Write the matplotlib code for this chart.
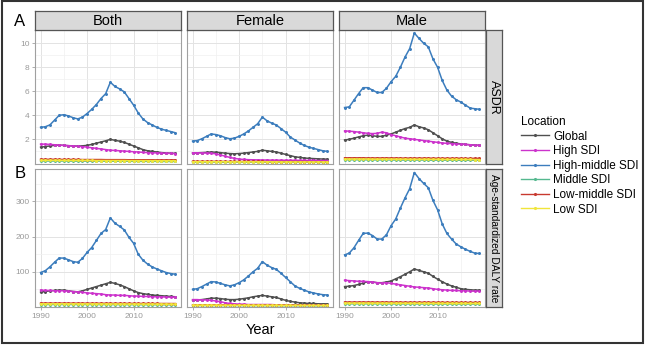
import numpy as np
import matplotlib

matplotlib.use("Agg")
import matplotlib.pyplot as plt
from matplotlib.lines import Line2D
from matplotlib.patches import Rectangle

plt.rcParams["font.family"] = ["Liberation Sans", "DejaVu Sans"]

years = list(range(1990, 2020))
locations = ["Global", "High SDI", "High-middle SDI", "Middle SDI", "Low-middle SDI", "Low SDI"]
sexes = ["Both", "Female", "Male"]
measures = ["ASDR", "Age-standardized DALY rate"]

asdr_both = {
    "Global": [1.35, 1.4, 1.45, 1.5, 1.52, 1.5, 1.47, 1.45, 1.44, 1.46, 1.5, 1.58, 1.68, 1.78, 1.88, 2.0, 1.92, 1.85, 1.75, 1.6, 1.45, 1.3, 1.15, 1.05, 1.0, 0.95, 0.9, 0.87, 0.85, 0.83],
    "High SDI": [1.6, 1.6, 1.58, 1.55, 1.52, 1.5, 1.48, 1.45, 1.42, 1.4, 1.35, 1.3, 1.25, 1.2, 1.15, 1.1, 1.08, 1.05, 1.02, 1.0, 0.97, 0.95, 0.92, 0.9, 0.88, 0.87, 0.85, 0.84, 0.83, 0.82],
    "High-middle SDI": [3.0, 3.05, 3.2, 3.6, 4.0, 4.05, 3.95, 3.8, 3.7, 3.85, 4.15, 4.5, 4.9, 5.4, 5.8, 6.75, 6.4, 6.2, 5.95, 5.4, 4.85, 4.2, 3.7, 3.4, 3.2, 3.0, 2.85, 2.75, 2.65, 2.55],
    "Middle SDI": [0.2, 0.2, 0.2, 0.2, 0.2, 0.2, 0.2, 0.19, 0.19, 0.19, 0.19, 0.19, 0.19, 0.19, 0.18, 0.18, 0.18, 0.18, 0.18, 0.18, 0.17, 0.17, 0.17, 0.17, 0.17, 0.17, 0.16, 0.16, 0.16, 0.16],
    "Low-middle SDI": [0.34, 0.34, 0.34, 0.34, 0.33, 0.33, 0.33, 0.33, 0.33, 0.32, 0.32, 0.32, 0.32, 0.32, 0.31, 0.31, 0.31, 0.31, 0.31, 0.3, 0.3, 0.3, 0.3, 0.3, 0.3, 0.29, 0.29, 0.29, 0.29, 0.29],
    "Low SDI": [0.26, 0.26, 0.26, 0.26, 0.26, 0.25, 0.25, 0.25, 0.25, 0.25, 0.25, 0.25, 0.24, 0.24, 0.24, 0.24, 0.24, 0.24, 0.24, 0.23, 0.23, 0.23, 0.23, 0.23, 0.23, 0.23, 0.22, 0.22, 0.22, 0.22],
}

asdr_female = {
    "Global": [0.85, 0.88, 0.9, 0.92, 0.95, 0.93, 0.9, 0.85, 0.82, 0.8, 0.82, 0.85, 0.9, 0.95, 1.0, 1.1, 1.05, 1.0, 0.95, 0.85, 0.75, 0.65, 0.55, 0.5, 0.45, 0.42, 0.4, 0.38, 0.36, 0.35],
    "High SDI": [0.88, 0.88, 0.87, 0.86, 0.84, 0.8, 0.7, 0.6, 0.5, 0.42, 0.36, 0.33, 0.31, 0.3, 0.29, 0.28, 0.28, 0.27, 0.27, 0.27, 0.26, 0.26, 0.26, 0.25, 0.25, 0.25, 0.25, 0.24, 0.24, 0.24],
    "High-middle SDI": [1.85, 1.9, 2.05, 2.25, 2.45, 2.4, 2.3, 2.15, 2.05, 2.1, 2.25, 2.45, 2.7, 3.0, 3.3, 3.85, 3.55, 3.35, 3.2, 2.9, 2.6, 2.2, 1.95, 1.7, 1.5, 1.35, 1.25, 1.15, 1.05, 1.0],
    "Middle SDI": [0.11, 0.11, 0.11, 0.11, 0.11, 0.11, 0.1, 0.1, 0.1, 0.1, 0.1, 0.1, 0.1, 0.1, 0.1, 0.1, 0.1, 0.09, 0.09, 0.09, 0.09, 0.09, 0.09, 0.09, 0.09, 0.09, 0.09, 0.09, 0.08, 0.08],
    "Low-middle SDI": [0.17, 0.17, 0.17, 0.17, 0.17, 0.17, 0.17, 0.16, 0.16, 0.16, 0.16, 0.16, 0.16, 0.16, 0.16, 0.16, 0.15, 0.15, 0.15, 0.15, 0.15, 0.15, 0.15, 0.15, 0.15, 0.14, 0.14, 0.14, 0.14, 0.14],
    "Low SDI": [0.14, 0.14, 0.14, 0.14, 0.14, 0.14, 0.14, 0.14, 0.13, 0.13, 0.13, 0.13, 0.13, 0.13, 0.13, 0.13, 0.13, 0.13, 0.13, 0.12, 0.12, 0.12, 0.12, 0.12, 0.12, 0.12, 0.12, 0.12, 0.12, 0.12],
}

asdr_male = {
    "Global": [1.95, 2.0, 2.1, 2.2, 2.3, 2.35, 2.3, 2.25, 2.25, 2.35, 2.45, 2.6, 2.75, 2.9, 3.0, 3.2, 3.05, 2.95, 2.8, 2.55, 2.3, 2.05, 1.85, 1.75, 1.68, 1.62, 1.58, 1.55, 1.52, 1.5],
    "High SDI": [2.7, 2.68, 2.65, 2.6, 2.55, 2.5, 2.48, 2.5, 2.6, 2.55, 2.4, 2.3, 2.2, 2.1, 2.05, 2.0, 1.95, 1.9, 1.85, 1.8, 1.75, 1.7, 1.67, 1.65, 1.62, 1.6, 1.58, 1.55, 1.52, 1.5],
    "High-middle SDI": [4.65, 4.7, 5.25, 5.8, 6.3, 6.3, 6.1, 5.9, 5.9, 6.25, 6.8, 7.25, 8.0, 8.85, 9.55, 10.85, 10.4, 10.0, 9.7, 8.7, 8.0, 6.9, 6.1, 5.6, 5.3, 5.1, 4.85, 4.6, 4.55, 4.5],
    "Middle SDI": [0.3, 0.3, 0.3, 0.3, 0.3, 0.29, 0.29, 0.29, 0.29, 0.29, 0.29, 0.28, 0.28, 0.28, 0.28, 0.28, 0.28, 0.28, 0.27, 0.27, 0.27, 0.27, 0.27, 0.27, 0.27, 0.26, 0.26, 0.26, 0.26, 0.26],
    "Low-middle SDI": [0.46, 0.46, 0.46, 0.46, 0.46, 0.45, 0.45, 0.45, 0.45, 0.45, 0.45, 0.45, 0.44, 0.44, 0.44, 0.44, 0.44, 0.44, 0.44, 0.43, 0.43, 0.43, 0.43, 0.43, 0.43, 0.43, 0.42, 0.42, 0.42, 0.42],
    "Low SDI": [0.36, 0.36, 0.36, 0.36, 0.36, 0.36, 0.35, 0.35, 0.35, 0.35, 0.35, 0.35, 0.35, 0.35, 0.34, 0.34, 0.34, 0.34, 0.34, 0.34, 0.34, 0.33, 0.33, 0.33, 0.33, 0.33, 0.33, 0.33, 0.32, 0.32],
}

daly_both = {
    "Global": [42, 44, 46, 47, 48, 48, 46, 44, 43, 46, 50, 54, 58, 62, 66, 70, 67, 63, 58, 52, 46, 41, 38, 36, 34, 33, 32, 31, 30, 29],
    "High SDI": [48, 47, 47, 46, 46, 46, 45, 44, 43, 42, 40, 39, 38, 37, 35, 34, 34, 33, 33, 32, 31, 31, 30, 30, 29, 29, 29, 28, 28, 28],
    "High-middle SDI": [98, 103, 114, 127, 139, 139, 134, 129, 127, 138, 155, 169, 189, 209, 220, 253, 238, 229, 219, 198, 181, 150, 133, 122, 114, 108, 103, 98, 95, 93],
    "Middle SDI": [7, 7, 7, 7, 7, 7, 7, 7, 7, 7, 7, 7, 6.8, 6.8, 6.8, 6.8, 6.7, 6.7, 6.6, 6.6, 6.5, 6.5, 6.4, 6.4, 6.3, 6.3, 6.2, 6.2, 6.1, 6.1],
    "Low-middle SDI": [11, 11, 11, 11, 11, 11, 10.9, 10.9, 10.8, 10.8, 10.7, 10.7, 10.6, 10.6, 10.5, 10.5, 10.4, 10.4, 10.3, 10.3, 10.2, 10.2, 10.1, 10.1, 10, 10, 9.9, 9.9, 9.8, 9.8],
    "Low SDI": [9, 9, 9, 9, 9, 9, 8.9, 8.9, 8.8, 8.8, 8.8, 8.7, 8.7, 8.6, 8.6, 8.6, 8.5, 8.5, 8.4, 8.4, 8.4, 8.3, 8.3, 8.2, 8.2, 8.2, 8.1, 8.1, 8, 8],
}

daly_female = {
    "Global": [19, 20, 21, 23, 25, 25, 24, 22, 21, 21, 22, 24, 26, 29, 31, 33, 31, 29, 27, 23, 19, 16, 14, 12, 11, 10, 10, 9, 9, 9],
    "High SDI": [21, 21, 20, 20, 19, 17, 15, 12, 10, 9, 8, 8, 7, 7, 7, 7, 7, 7, 6, 6, 6, 6, 6, 6, 6, 6, 5, 5, 5, 5],
    "High-middle SDI": [50, 52, 58, 65, 72, 71, 67, 63, 60, 63, 69, 77, 88, 100, 110, 129, 119, 112, 107, 96, 84, 72, 60, 53, 48, 43, 40, 37, 35, 34],
    "Middle SDI": [4, 4, 4, 4, 4, 4, 4, 3.9, 3.9, 3.9, 3.9, 3.8, 3.8, 3.8, 3.8, 3.7, 3.7, 3.7, 3.7, 3.6, 3.6, 3.6, 3.6, 3.5, 3.5, 3.5, 3.5, 3.4, 3.4, 3.4],
    "Low-middle SDI": [6, 6, 6, 6, 6, 6, 6, 5.9, 5.9, 5.9, 5.9, 5.8, 5.8, 5.8, 5.8, 5.7, 5.7, 5.7, 5.7, 5.6, 5.6, 5.6, 5.6, 5.5, 5.5, 5.5, 5.5, 5.4, 5.4, 5.4],
    "Low SDI": [5, 5, 5, 5, 5, 5, 5, 4.9, 4.9, 4.9, 4.9, 4.8, 4.8, 4.8, 4.8, 4.7, 4.7, 4.7, 4.7, 4.6, 4.6, 4.6, 4.6, 4.5, 4.5, 4.5, 4.5, 4.4, 4.4, 4.4],
}

daly_male = {
    "Global": [58, 59, 61, 64, 68, 72, 71, 69, 69, 71, 74, 80, 86, 93, 100, 108, 104, 100, 96, 87, 79, 72, 65, 60, 56, 52, 50, 49, 48, 48],
    "High SDI": [76, 75, 74, 73, 73, 72, 71, 69, 68, 69, 67, 65, 63, 61, 59, 57, 56, 55, 54, 52, 50, 49, 48, 47, 47, 46, 46, 45, 45, 45],
    "High-middle SDI": [148, 153, 168, 189, 209, 210, 203, 193, 193, 205, 231, 250, 281, 310, 336, 382, 365, 351, 339, 303, 276, 236, 209, 193, 179, 171, 164, 158, 153, 152],
    "Middle SDI": [9, 9, 9, 9, 9, 9, 9, 8.9, 8.9, 8.9, 8.9, 8.8, 8.8, 8.8, 8.8, 8.7, 8.7, 8.7, 8.7, 8.6, 8.6, 8.6, 8.6, 8.5, 8.5, 8.5, 8.5, 8.4, 8.4, 8.4],
    "Low-middle SDI": [14, 14, 14, 14, 14, 14, 13.9, 13.9, 13.8, 13.8, 13.8, 13.7, 13.7, 13.6, 13.6, 13.6, 13.5, 13.5, 13.4, 13.4, 13.4, 13.3, 13.3, 13.2, 13.2, 13.2, 13.1, 13.1, 13, 13],
    "Low SDI": [11, 11, 11, 11, 11, 11, 10.9, 10.9, 10.9, 10.8, 10.8, 10.8, 10.7, 10.7, 10.7, 10.6, 10.6, 10.6, 10.5, 10.5, 10.5, 10.4, 10.4, 10.4, 10.3, 10.3, 10.3, 10.2, 10.2, 10.2],
}

panel_data = [[asdr_both, asdr_female, asdr_male], [daly_both, daly_female, daly_male]]

colors = {
    "Global": "#505050",
    "High SDI": "#cc33cc",
    "High-middle SDI": "#3c7dbd",
    "Middle SDI": "#55b88f",
    "Low-middle SDI": "#c8392f",
    "Low SDI": "#f0e53a",
}

W, H = 647, 346


def rect(left, top, right, bottom):
    return [left / W, 1 - bottom / H, (right - left) / W, (bottom - top) / H]


fig = plt.figure(figsize=(W / 100, H / 100), dpi=100)

col_lefts = [35, 187, 339]
col_width = 146
row_tops = [30, 169]
row_bottoms = [164, 307]
ylims = [(-0.05, 11.1), (0, 392)]
yticks = [[2, 4, 6, 8, 10], [100, 200, 300]]
yminor = [[1, 3, 5, 7, 9], [50, 150, 250, 350]]
strip_fill = "#d9d9d9"
strip_edge = "#555555"
strip_sizes = [9, 7.3]

for r in range(2):
    for c in range(3):
        left = col_lefts[c]
        ax = fig.add_axes(rect(left, row_tops[r], left + col_width, row_bottoms[r]))
        for loc in locations:
            ax.plot(years, panel_data[r][c][loc], color=colors[loc], lw=1.1,
                    marker=".", markersize=2.3, label=loc)
        ax.set_xlim(1988.8, 2020.2)
        ax.set_ylim(*ylims[r])
        ax.set_xticks([1990, 2000, 2010])
        ax.set_xticks([1995, 2005, 2015], minor=True)
        ax.set_yticks(yticks[r])
        ax.set_yticks(yminor[r], minor=True)
        ax.grid(True, which="major", color="#e3e3e3", lw=0.7)
        ax.grid(True, which="minor", color="#f0f0f0", lw=0.5)
        ax.set_axisbelow(True)
        for sp in ax.spines.values():
            sp.set_color("#a0a0a0")
            sp.set_linewidth(0.8)
        ax.tick_params(which="minor", length=0)
        ax.tick_params(which="major", length=2, color="#a0a0a0", width=0.6,
                       labelsize=6, labelcolor="#9a9a9a", pad=2)
        if c != 0:
            ax.tick_params(axis="y", labelleft=False, length=0)
        if r != 1:
            ax.tick_params(axis="x", labelbottom=False, length=0)

        if r == 0:
            sax = fig.add_axes(rect(left, 11, left + col_width, 30))
            sax.set_facecolor(strip_fill)
            sax.set_xticks([])
            sax.set_yticks([])
            for sp in sax.spines.values():
                sp.set_color(strip_edge)
                sp.set_linewidth(0.9)
            sax.text(0.5, 0.45, sexes[c], ha="center", va="center", fontsize=10.5,
                     transform=sax.transAxes)

    rax = fig.add_axes(rect(486, row_tops[r], 502, row_bottoms[r]))
    rax.set_facecolor(strip_fill)
    rax.set_xticks([])
    rax.set_yticks([])
    for sp in rax.spines.values():
        sp.set_color(strip_edge)
        sp.set_linewidth(0.9)
    rax.text(0.5, 0.5, measures[r], ha="center", va="center", rotation=-90,
             fontsize=strip_sizes[r], transform=rax.transAxes)

fig.text(20 / W, 1 - 22 / H, "A", ha="center", va="center", fontsize=12)
fig.text(20 / W, 1 - 174 / H, "B", ha="center", va="center", fontsize=12)
fig.text(260 / W, 1 - 330 / H, "Year", ha="center", va="center", fontsize=10.5)

handles = [Line2D([], [], color=colors[loc], lw=1.0, marker=".", markersize=2.5) for loc in locations]
fig.legend(handles, locations, loc="upper left", bbox_to_anchor=(521 / W, 1 - 116 / H),
           frameon=False, title="Location", fontsize=8.5, title_fontsize=8.5,
           handlelength=2.4, labelspacing=0.22, handletextpad=0.3,
           borderaxespad=0, borderpad=0, alignment="left")

fig.add_artist(Rectangle((2 / W, 1 - 343 / H), 641 / W, 342 / H, transform=fig.transFigure,
                         fill=False, edgecolor="#333333", lw=1.5))

fig.savefig("out.png", dpi=100)
plt.close(fig)
